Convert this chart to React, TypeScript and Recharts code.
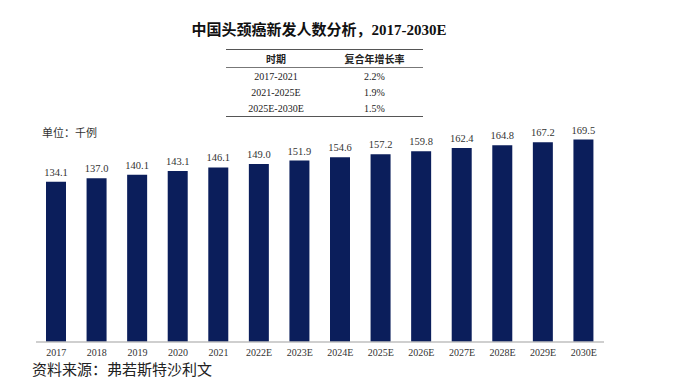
import React from "react";
import { BarChart, Bar, XAxis, YAxis, LabelList } from "recharts";

const years = ["2017", "2018", "2019", "2020", "2021", "2022E", "2023E", "2024E", "2025E", "2026E", "2027E", "2028E", "2029E", "2030E"];
const cases = [134.1, 137.0, 140.1, 143.1, 146.1, 149.0, 151.9, 154.6, 157.2, 159.8, 162.4, 164.8, 167.2, 169.5];
const periods = ["2017-2021", "2021-2025E", "2025E-2030E"];
const cagrs = ["2.2%", "1.9%", "1.5%"];

const serif = '"Liberation Serif", "Times New Roman", "Noto Sans CJK SC", serif';
const navy = "#0b1e5b";

export default function App() {
    const data = years.map((y, i) => ({ year: y, value: cases[i] }));

    return (
        <div style={{ position: "absolute", left: 0, top: 0, width: 680, height: 381, background: "#fff", fontFamily: serif }}>
            <div style={{ position: "absolute", left: 0, width: 638, top: 20, textAlign: "center", fontSize: 15, fontWeight: 700, color: "#111", lineHeight: "20px" }}>
                中国头颈癌新发人数分析，2017-2030E
            </div>

            {/* CAGR table */}
            <div style={{ position: "absolute", left: 226, top: 49, width: 197, fontSize: 10, color: "#222" }}>
                <div style={{ borderTop: "1.5px solid #555", borderBottom: "1px solid #777", display: "flex", height: 17, alignItems: "center", fontWeight: 700 }}>
                    <div style={{ width: 100, textAlign: "center" }}>时期</div>
                    <div style={{ width: 97, textAlign: "center" }}>复合年增长率</div>
                </div>
                {periods.map((p, i) => (
                    <div key={p} style={{ display: "flex", height: 16, alignItems: "center", borderBottom: i === periods.length - 1 ? "1.5px solid #555" : "none" }}>
                        <div style={{ width: 100, textAlign: "center" }}>{p}</div>
                        <div style={{ width: 97, textAlign: "center" }}>{cagrs[i]}</div>
                    </div>
                ))}
            </div>

            <div style={{ position: "absolute", left: 42, top: 124, fontSize: 11, color: "#333" }}>单位：千例</div>

            <BarChart width={680} height={381} data={data} margin={{ top: 127, right: 76, left: 36, bottom: 9 }}>
                <XAxis
                    dataKey="year"
                    height={30}
                    tickLine={false}
                    axisLine={{ stroke: "#bfbfbf", strokeWidth: 1.5 }}
                    tickMargin={1}
                    interval={0}
                    tick={{ fontSize: 10, fill: "#333", fontFamily: serif }}
                />
                <YAxis hide domain={[0, 180]} />
                <Bar dataKey="value" fill={navy} barSize={20} isAnimationActive={false}>
                    <LabelList dataKey="value" position="top" offset={6} formatter={(v: number) => v.toFixed(1)} style={{ fontSize: 10.5, fill: "#333", fontFamily: serif }} />
                </Bar>
            </BarChart>

            <div style={{ position: "absolute", left: 32, top: 360, fontSize: 15, color: "#222", fontFamily: '"Noto Sans CJK SC", serif', lineHeight: "18px" }}>
                资料来源：弗若斯特沙利文
            </div>
        </div>
    );
}
